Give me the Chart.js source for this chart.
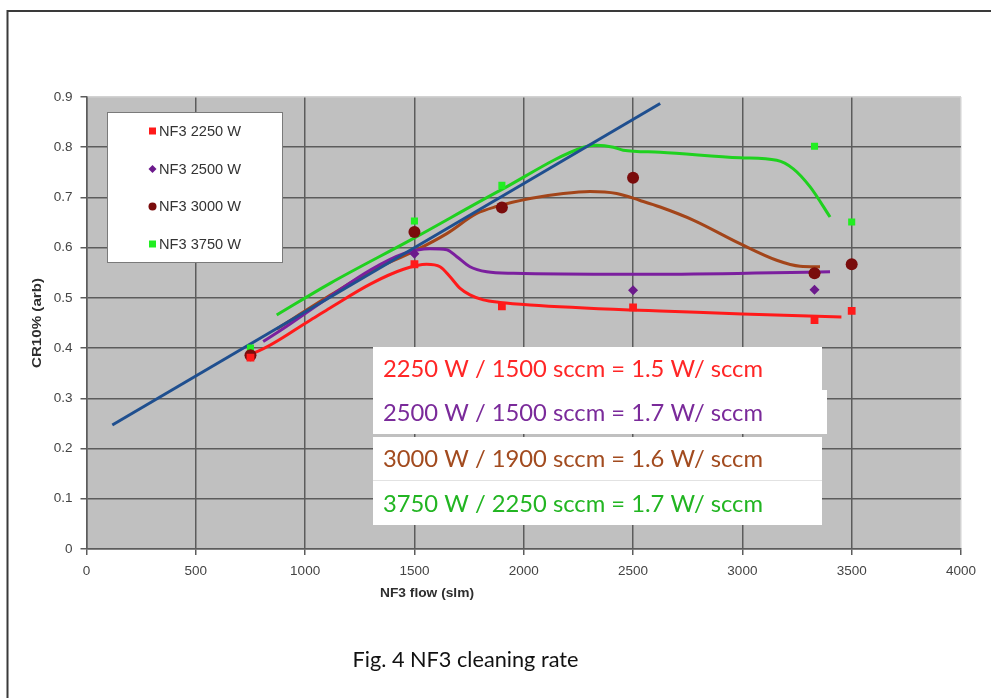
<!DOCTYPE html>
<html>
<head>
<meta charset="utf-8">
<script src="https://cdn.jsdelivr.net/npm/chart.js@4/dist/chart.umd.min.js"></script>
<style>
  html, body { margin: 0; padding: 0; background: #ffffff; }
  canvas { display: block; }
</style>
</head>
<body>
<canvas id="c" width="991" height="698"></canvas>
<script>
// Measured points: NF3 flow (slm) vs CR10% (arb)
const flow2250 = [750, 1500, 1900, 2500, 3330, 3500];
const cr2250   = [0.381, 0.567, 0.483, 0.481, 0.456, 0.474];
const flow2500 = [750, 1500, 2500, 3330];
const cr2500   = [0.388, 0.588, 0.515, 0.516];
const flow3000 = [750, 1500, 1900, 2500, 3330, 3500];
const cr3000   = [0.386, 0.631, 0.680, 0.739, 0.549, 0.567];
const flow3750 = [750, 1500, 1900, 3330, 3500];
const cr3750   = [0.400, 0.653, 0.724, 0.802, 0.651];

// Hand-drawn trend curves
const trend2250X = [752, 775, 1025, 1114, 1300, 1450, 1556, 1617, 1663, 1709, 1754, 1815, 1892, 2029, 2487, 2624, 3000, 3453];
const trend2250Y = [0.390, 0.392, 0.456, 0.480, 0.528, 0.557, 0.567, 0.562, 0.542, 0.519, 0.506, 0.496, 0.491, 0.486, 0.476, 0.474, 0.468, 0.462];
const trend2500X = [808, 890, 1114, 1300, 1450, 1571, 1648, 1694, 1754, 1831, 1953, 2487, 2624, 3401];
const trend2500Y = [0.413, 0.436, 0.503, 0.556, 0.588, 0.598, 0.596, 0.582, 0.562, 0.552, 0.549, 0.547, 0.547, 0.552];
const trend3000X = [870, 1114, 1300, 1494, 1648, 1785, 1876, 2029, 2181, 2303, 2425, 2532, 2624, 2775, 2989, 3157, 3264, 3355];
const trend3000Y = [0.438, 0.505, 0.553, 0.592, 0.628, 0.668, 0.682, 0.698, 0.708, 0.712, 0.708, 0.694, 0.681, 0.655, 0.608, 0.575, 0.563, 0.562];
const trend3750X = [870, 1114, 1494, 1892, 2273, 2334, 2410, 2455, 2624, 2989, 3157, 3233, 3310, 3401];
const trend3750Y = [0.466, 0.529, 0.618, 0.714, 0.800, 0.804, 0.800, 0.794, 0.790, 0.779, 0.774, 0.757, 0.721, 0.661];
const fitLineX = [118, 2624];
const fitLineY = [0.247, 0.887];

// Axis ticks
const xTicks = [0, 500, 1000, 1500, 2000, 2500, 3000, 3500, 4000];
const yTicks = [0, 0.1, 0.2, 0.3, 0.4, 0.5, 0.6, 0.7, 0.8, 0.9];

// Legend and annotation texts
const seriesNames = ['NF3 2250 W', 'NF3 2500 W', 'NF3 3000 W', 'NF3 3750 W'];
const ratioNotes = [
  '2250 W / 1500 sccm = 1.5 W/ sccm',
  '2500 W / 1500 sccm = 1.7 W/ sccm',
  '3000 W / 1900 sccm = 1.6 W/ sccm',
  '3750 W / 2250 sccm = 1.7 W/ sccm'
];
const xTitle = 'NF3 flow (slm)';
const yTitle = 'CR10% (arb)';
const caption = 'Fig. 4 NF3 cleaning rate';

const toPts = (xs, ys) => xs.map((x, i) => ({ x: x, y: ys[i] }));

const markerColors = ['#ff1a1a', '#6c1a8c', '#7a0c0c', '#22ee22'];
const markerStyles = ['rect', 'rectRot', 'circle', 'rect'];
const markerRadius = [5.5, 5, 6, 5];
const noteColors = ['#ff2626', '#7a2a9a', '#a24b1f', '#22b522'];

function markerSet(label, xs, ys, i) {
  return {
    label: label, data: toPts(xs, ys), showLine: false,
    pointStyle: markerStyles[i], pointRadius: markerRadius[i],
    backgroundColor: markerColors[i], borderColor: markerColors[i], borderWidth: 0,
    order: i === 1 ? 2 : 1
  };
}
function curveSet(xs, ys, color) {
  return {
    data: toPts(xs, ys), showLine: true, pointRadius: 0,
    borderColor: color, borderWidth: 3, cubicInterpolationMode: 'monotone',
    fill: false, order: 3
  };
}

// Fit a string into a given width by horizontal scaling
function fitText(ctx, text, x, y, width, align) {
  const w = ctx.measureText(text).width;
  const s = width / w;
  ctx.save();
  ctx.translate(x, y);
  ctx.scale(s, 1);
  ctx.textAlign = 'left';
  ctx.fillText(text, align === 'center' ? -w / 2 : 0, 0);
  ctx.restore();
}

const decor = {
  id: 'decor',
  beforeDraw(chart) {
    const { ctx, chartArea: a } = chart;
    ctx.save();
    ctx.fillStyle = '#ffffff';
    ctx.fillRect(0, 0, chart.width, chart.height);
    ctx.fillStyle = '#c0c0c0';
    ctx.fillRect(a.left, a.top, a.right - a.left, a.bottom - a.top);
    ctx.restore();
  },
  afterDatasetsDraw(chart) {
    const { ctx } = chart;
    ctx.save();
    // legend
    ctx.fillStyle = '#ffffff';
    ctx.fillRect(107, 112, 176, 151);
    ctx.strokeStyle = '#7a7a7a';
    ctx.lineWidth = 1;
    ctx.strokeRect(107.5, 112.5, 175, 150);
    const rows = [131, 169, 206.5, 244];
    ctx.font = '14px "Liberation Sans", Arial, sans-serif';
    ctx.textBaseline = 'middle';
    rows.forEach((ry, i) => {
      ctx.fillStyle = markerColors[i];
      ctx.beginPath();
      if (i === 0 || i === 3) ctx.rect(149, ry - 3.5, 7, 7);
      else if (i === 1) { ctx.moveTo(152.5, ry - 4); ctx.lineTo(156.5, ry); ctx.lineTo(152.5, ry + 4); ctx.lineTo(148.5, ry); ctx.closePath(); }
      else ctx.arc(152.5, ry, 4, 0, Math.PI * 2);
      ctx.fill();
      ctx.fillStyle = '#333333';
      fitText(ctx, seriesNames[i], 159, ry + 1, 82);
    });

    // ratio notes
    ctx.fillStyle = '#ffffff';
    ctx.fillRect(373, 347, 449, 43);
    ctx.fillRect(373, 390, 454, 44);
    ctx.fillRect(373, 437, 449, 43);
    ctx.fillRect(373, 481, 449, 44);
    ctx.fillStyle = '#e2e2e2';
    ctx.fillRect(373, 480, 449, 1);
    const base = [376.5, 420.5, 466.5, 511.5];
    ctx.font = '23px Lato, "Open Sans", sans-serif';
    ctx.textBaseline = 'alphabetic';
    ratioNotes.forEach((t, i) => {
      ctx.fillStyle = noteColors[i];
      fitText(ctx, t, 383, base[i], 380);
    });
    ctx.restore();
  },
  afterDraw(chart) {
    const { ctx } = chart;
    ctx.save();
    // outer frame
    ctx.strokeStyle = '#3a3a3a';
    ctx.lineWidth = 2;
    ctx.beginPath();
    ctx.moveTo(991, 11);
    ctx.lineTo(7.5, 11);
    ctx.lineTo(7.5, 698);
    ctx.stroke();
    // axis titles
    ctx.fillStyle = '#2e2e2e';
    ctx.font = 'bold 13.5px "Liberation Sans", Arial, sans-serif';
    ctx.textBaseline = 'middle';
    fitText(ctx, xTitle, 427, 593, 94, 'center');
    ctx.save();
    ctx.translate(37.5, 323);
    ctx.rotate(-Math.PI / 2);
    fitText(ctx, yTitle, 0, 0, 90, 'center');
    ctx.restore();
    // caption
    ctx.fillStyle = '#111111';
    ctx.font = '22px Lato, "Open Sans", sans-serif';
    ctx.textBaseline = 'alphabetic';
    fitText(ctx, caption, 465.5, 666.5, 226, 'center');
    ctx.restore();
  }
};

const gridDark = '#5c5c5c';
const gridLight = '#d2d2d2';

new Chart(document.getElementById('c'), {
  type: 'scatter',
  data: {
    datasets: [
      markerSet(seriesNames[0], flow2250, cr2250, 0),
      markerSet(seriesNames[1], flow2500, cr2500, 1),
      markerSet(seriesNames[2], flow3000, cr3000, 2),
      markerSet(seriesNames[3], flow3750, cr3750, 3),
      curveSet(fitLineX, fitLineY, '#1f4f8f'),
      curveSet(trend2250X, trend2250Y, '#ff1a1a'),
      curveSet(trend2500X, trend2500Y, '#7b1f9e'),
      curveSet(trend3000X, trend3000Y, '#a3451a'),
      curveSet(trend3750X, trend3750Y, '#1fd11f')
    ]
  },
  options: {
    responsive: false,
    animation: false,
    devicePixelRatio: 1,
    layout: { padding: { left: 0, right: 30, top: 97, bottom: 0 } },
    plugins: { legend: { display: false }, tooltip: { enabled: false } },
    scales: {
      x: {
        type: 'linear', min: xTicks[0], max: xTicks[xTicks.length - 1],
        afterBuildTicks: s => { s.ticks = xTicks.map(v => ({ value: v })); },
        afterFit: s => { s.height = 698 - 549; },
        ticks: {
          callback: v => String(v), color: '#444444', padding: 8, maxRotation: 0,
          font: { family: '"Liberation Sans", Arial, sans-serif', size: 13.5 }
        },
        grid: {
          color: c => (c.tick && c.tick.value === 4000) ? gridLight : gridDark,
          lineWidth: 1.5, tickLength: 6, tickColor: gridDark
        },
        border: { color: gridDark, width: 1.5 }
      },
      y: {
        min: yTicks[0], max: yTicks[yTicks.length - 1],
        afterBuildTicks: s => { s.ticks = yTicks.map(v => ({ value: v })); },
        afterFit: s => { s.width = 86.5; },
        ticks: {
          callback: v => v === 0 ? '0' : Number(v).toFixed(1), color: '#444444', padding: 8,
          font: { family: '"Liberation Sans", Arial, sans-serif', size: 13.5 }
        },
        grid: {
          color: c => (c.tick && Math.abs(c.tick.value - 0.9) < 1e-6) ? gridLight : gridDark,
          lineWidth: 1.5, tickLength: 6, tickColor: gridDark
        },
        border: { color: gridDark, width: 1.5 }
      }
    }
  },
  plugins: [decor]
});
</script>
</body>
</html>
